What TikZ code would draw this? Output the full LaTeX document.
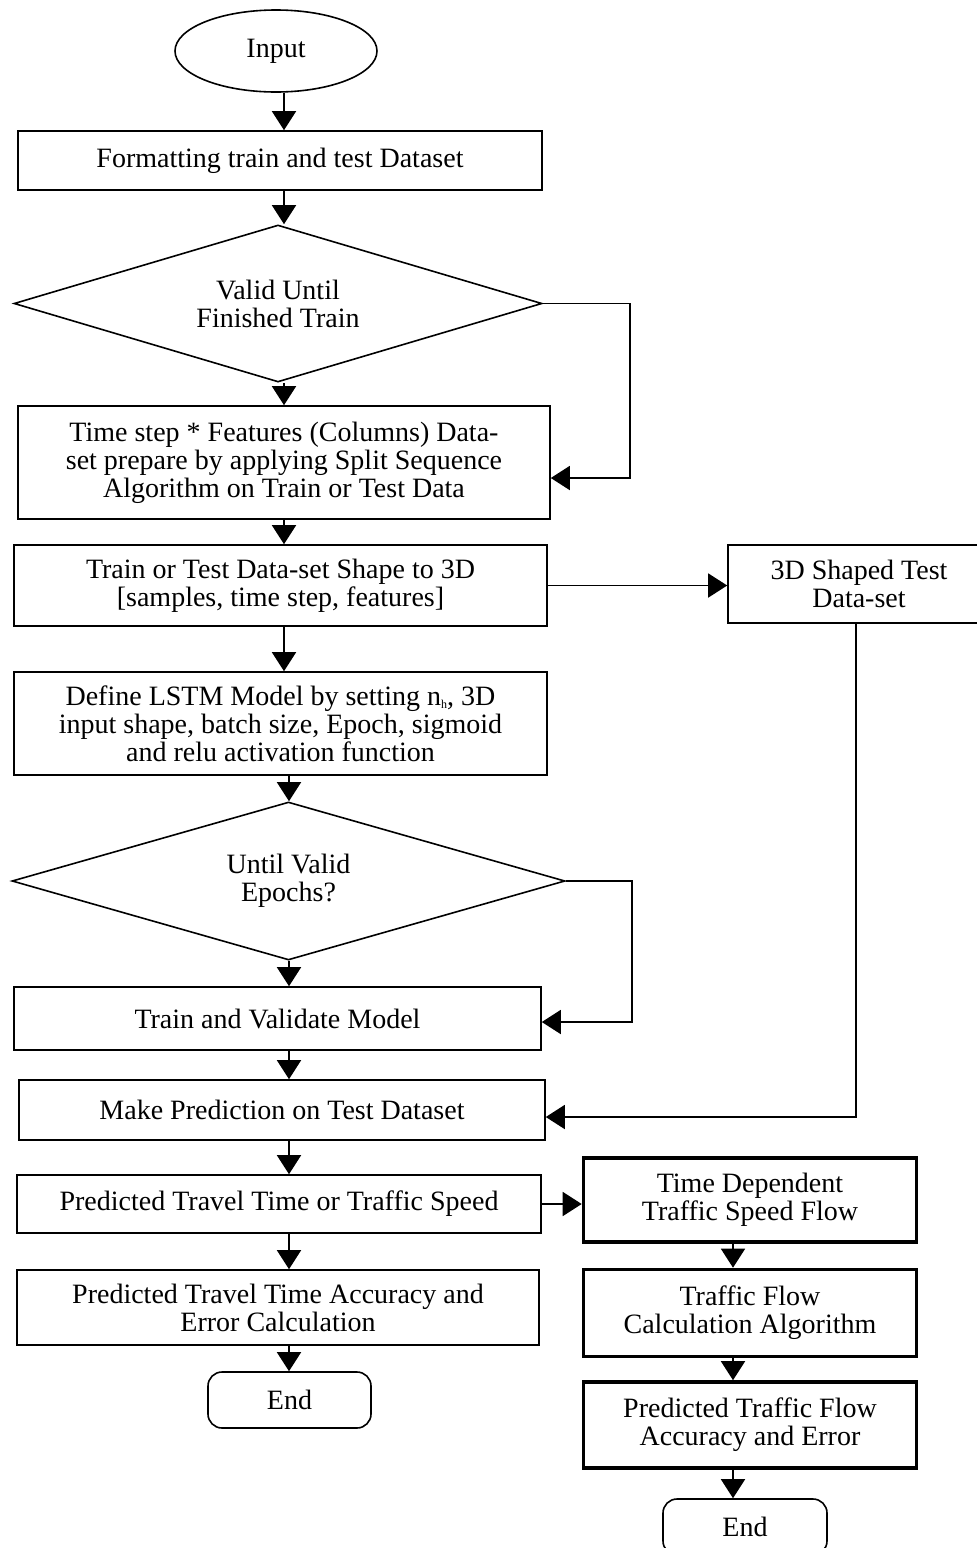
\documentclass[tikz,border=0pt]{standalone}
\usepackage{fontspec}
\setmainfont{Liberation Serif}
\usetikzlibrary{shapes.geometric,arrows.meta}
\begin{document}
\begin{tikzpicture}[x=1pt,y=-1pt,
  every node/.style={font=\fontsize{28}{28}\selectfont, align=center, inner sep=0pt},
  box/.style={draw, line width=1.6pt, rectangle},
  boldbox/.style={draw, line width=3.6pt, rectangle},
  decision/.style={draw, line width=1.6pt, diamond, aspect=3},
  terminal/.style={draw, line width=1.6pt, rounded corners=14pt, rectangle},
  arr/.style={line width=1.6pt, -{Triangle[length=19pt,width=24pt]}}]

\useasboundingbox (0,0) rectangle (977,1548);
\clip (0,0) rectangle (977,1548);

% columns used by the vertical connectors
\coordinate (colA) at (284,0);
\coordinate (colB) at (289,0);
\coordinate (colR) at (733,0);

% main flow
\node[draw, line width=1.6pt, ellipse, minimum width=202pt, minimum height=82pt] (in) at (276,51) {Input};
\node[box, minimum width=524pt, minimum height=59pt] (b1) at (280,160.5) {Formatting train and test Dataset};
\node[decision, minimum width=528pt, minimum height=157pt] (d1) at (278,303.5) {Valid Until\\Finished Train};
\node[box, minimum width=532pt, minimum height=113pt] (b2) at (284,462.5)
  {Time step * Features (Columns) Data-\\set prepare by applying Split Sequence\\Algorithm on Train or Test Data};
\node[box, minimum width=533pt, minimum height=81pt] (b3) at (280.5,585.5)
  {Train or Test Data-set Shape to 3D\\{[}samples, time step, features{]}};
\node[box, minimum width=262pt, minimum height=78pt] (s3d) at (859,584) {3D Shaped Test\\Data-set};
\node[box, minimum width=533pt, minimum height=103pt] (b4) at (280.5,723.5)
  {Define LSTM Model by setting n\raisebox{-3pt}{\fontsize{12}{12}\selectfont h}, 3D\\input shape, batch size, Epoch, sigmoid\\and relu activation function};
\node[decision, minimum width=553pt, minimum height=158pt] (d2) at (288.5,881) {Until Valid\\Epochs?};
\node[box, minimum width=527pt, minimum height=63pt] (b5) at (277.5,1018.5) {Train and Validate Model};
\node[box, minimum width=526pt, minimum height=60pt] (b6) at (282,1110) {Make Prediction on Test Dataset};
\node[box, minimum width=524pt, minimum height=58pt] (b7) at (279,1204) {Predicted Travel Time or Traffic Speed};
\node[box, minimum width=522pt, minimum height=75pt] (b8) at (278,1307.5)
  {Predicted Travel Time Accuracy and\\Error Calculation};
\node[terminal, minimum width=163pt, minimum height=56pt] (e1) at (289.5,1400) {End};

% traffic flow branch
\node[boldbox, minimum width=333pt, minimum height=84pt] (r1) at (750,1200)
  {Time Dependent\\Traffic Speed Flow};
\node[boldbox, minimum width=333pt, minimum height=87pt] (r2) at (750,1313)
  {Traffic Flow\\Calculation Algorithm};
\node[boldbox, minimum width=333pt, minimum height=86pt] (r3) at (750,1425)
  {Predicted Traffic Flow\\Accuracy and Error};
\node[terminal, minimum width=164pt, minimum height=56pt] (e2) at (745,1527) {End};

% vertical connectors of the main flow
\draw[arr] (in.south -| colA) -- (b1.north -| colA);
\draw[arr] (b1.south -| colA) -- (d1.north -| colA);
\draw[arr] (d1.south -| colA) -- (b2.north -| colA);
\draw[arr] (b2.south -| colA) -- (b3.north -| colA);
\draw[arr] (b3.south -| colA) -- (b4.north -| colA);
\draw[arr] (b4.south -| colB) -- (d2.north -| colB);
\draw[arr] (d2.south -| colB) -- (b5.north -| colB);
\draw[arr] (b5.south -| colB) -- (b6.north -| colB);
\draw[arr] (b6.south -| colB) -- (b7.north -| colB);
\draw[arr] (b7.south -| colB) -- (b8.north -| colB);
\draw[arr] (b8.south -| colB) -- (e1.north -| colB);

% loops back from the decisions
\coordinate (loopA) at (630,478);
\draw[arr] (d1.east) -| (loopA) -- (loopA -| b2.east);
\coordinate (loopB) at (632,1022);
\draw[arr] (d2.east) -| (loopB) -- (loopB -| b5.east);

% side branches
\draw[arr] (b3.east) -- (b3.east -| s3d.west);
\draw[arr] ([xshift=-3pt]s3d.south) |- ([yshift=-7pt]b6.east);
\draw[arr] (b7.east) -- (b7.east -| r1.west);
\draw[arr] (r1.south -| colR) -- (r2.north -| colR);
\draw[arr] (r2.south -| colR) -- (r3.north -| colR);
\draw[arr] (r3.south -| colR) -- (e2.north -| colR);
\end{tikzpicture}
\end{document}
